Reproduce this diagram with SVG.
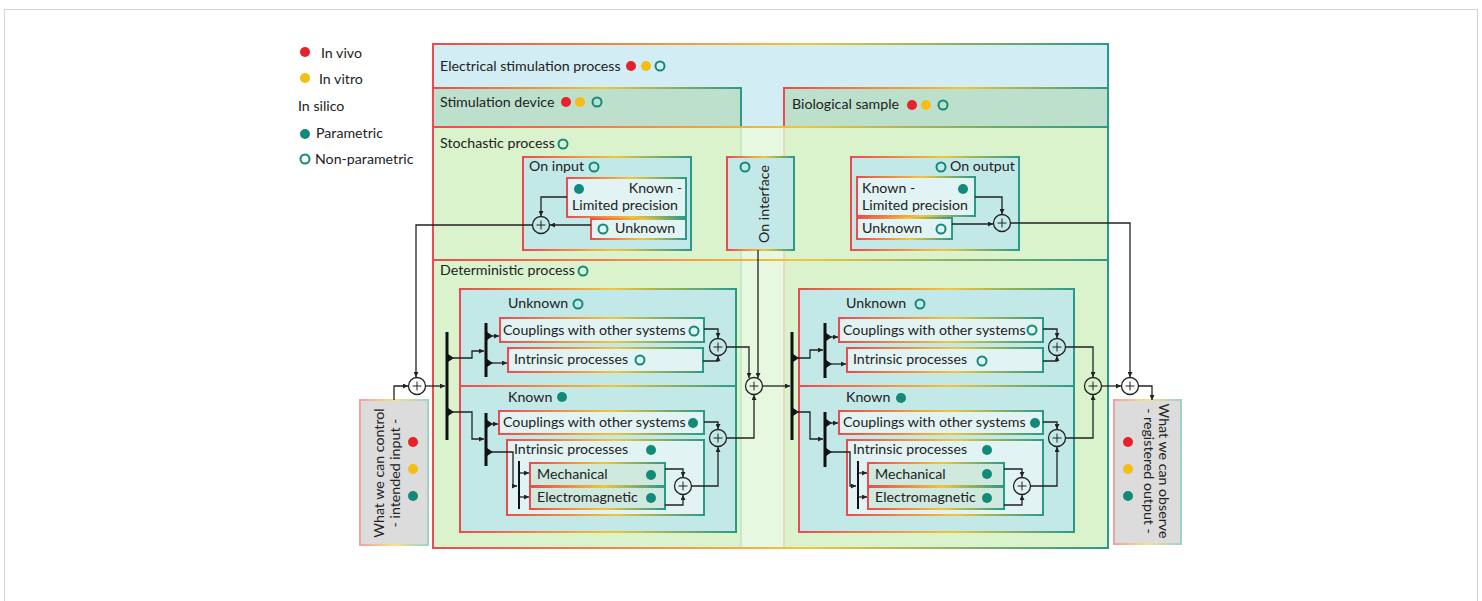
<svg xmlns="http://www.w3.org/2000/svg" width="1482" height="601" viewBox="0 0 1482 601">
<defs>
<linearGradient id="gb" x1="0" y1="0" x2="1" y2="0">
<stop offset="0" stop-color="#ec4a50"/><stop offset="0.55" stop-color="#f2c53a"/><stop offset="1" stop-color="#2a9a88"/>
</linearGradient>
<linearGradient id="gl" x1="0" y1="0" x2="1" y2="0">
<stop offset="0" stop-color="#f5a0a0"/><stop offset="0.5" stop-color="#f5e08a"/><stop offset="1" stop-color="#9fd3c8"/>
</linearGradient>
<marker id="a" viewBox="0 0 6 6" refX="6" refY="3" markerWidth="5" markerHeight="5" orient="auto" markerUnits="userSpaceOnUse"><path d="M0,0 L6,3 L0,6z" fill="#222"/></marker>
<g id="sum"><circle r="8.5" fill="none" stroke="#222" stroke-width="1.3"/><path d="M-4.5,0 H4.5 M0,-4.5 V4.5" stroke="#222" stroke-width="1"/></g>
</defs>
<style>
text{font-family:Lato,"Open Sans","Liberation Sans",sans-serif;font-size:14.2px;fill:#222}
.bx{stroke:url(#gb);stroke-width:2}
.cy{fill:#c2e9e8}
.lt{fill:#e1f4f3}
.me{fill:#cfe9df}
.gr{fill:#dcdcdc;stroke:url(#gl);stroke-width:2}
.dr{fill:#e8202a}.dy{fill:#f6be14}.dt{fill:#13897a}
.ring{fill:none;stroke:#13897a;stroke-width:2}
.c{fill:none;stroke:#222;stroke-width:1.3}
.ca{fill:none;stroke:#222;stroke-width:1.3;marker-end:url(#a)}
.br{stroke:#111;stroke-width:3}
.br2{stroke:#111;stroke-width:2}
</style>
<rect x="4.5" y="9.5" width="1473" height="600" fill="#fff" stroke="#d4d4d4"/>

<g id="legend">
<circle class="dr" cx="305" cy="52" r="5"/><text x="321" y="58">In vivo</text>
<circle class="dy" cx="305" cy="78" r="5"/><text x="319" y="84">In vitro</text>
<text x="298" y="111">In silico</text>
<circle class="dt" cx="305" cy="134" r="5"/><text x="316" y="138">Parametric</text>
<circle class="ring" cx="305" cy="159" r="4.5"/><text x="315" y="164">Non-parametric</text>
</g>

<g id="electrical-stimulation-process">
<rect x="433" y="44" width="675" height="504" fill="#d2eef4"/>
<rect x="433" y="127" width="675" height="133" fill="#daf3cd"/>
<rect x="433" y="260" width="675" height="288" fill="#daf3cd"/>
<rect x="741" y="127" width="43" height="421" fill="#e6f8df"/>
<line x1="741" y1="127" x2="741" y2="548" stroke="#b9e0bd" stroke-width="1.2"/>
<line x1="784" y1="127" x2="784" y2="548" stroke="#f2c4b4" stroke-width="1.2"/>
<rect class="bx" x="433" y="44" width="675" height="504" fill="none"/>
<text x="440" y="71">Electrical stimulation process</text>
<circle class="dr" cx="631" cy="66" r="5"/><circle class="dy" cx="646" cy="66" r="5"/><circle class="ring" cx="660" cy="66" r="4.5"/>
</g>

<g id="stimulation-device">
<rect class="bx" x="433" y="88" width="308" height="39" fill="#bde0cd"/>
<text x="440" y="107">Stimulation device</text>
<circle class="dr" cx="566" cy="102" r="5"/><circle class="dy" cx="580" cy="102" r="5"/><circle class="ring" cx="597" cy="102" r="4.5"/>
</g>

<g id="biological-sample">
<rect class="bx" x="784" y="88" width="324" height="39" fill="#bde0cd"/>
<text x="792" y="109">Biological sample</text>
<circle class="dr" cx="912" cy="105" r="5"/><circle class="dy" cx="926" cy="105" r="5"/><circle class="ring" cx="943" cy="105" r="4.5"/>
</g>

<g id="stochastic-process">
<rect class="bx" x="433" y="127" width="675" height="133" fill="none"/>
<text x="440" y="148">Stochastic process</text>
<circle class="ring" cx="563" cy="144" r="4.5"/>
</g>

<g id="deterministic-process">
<rect class="bx" x="433" y="260" width="675" height="288" fill="none"/>
<text x="440" y="275">Deterministic process</text>
<circle class="ring" cx="583" cy="271" r="4.5"/>
</g>

<g id="on-input">
<rect class="bx cy" x="523" y="157" width="168" height="93"/>
<text x="529" y="171">On input</text><circle class="ring" cx="594" cy="167" r="4.5"/>
<rect class="bx lt" x="567" y="178" width="119" height="39"/>
<circle class="dt" cx="579" cy="189" r="5"/>
<text x="682" y="193" text-anchor="end">Known -</text>
<text x="572" y="210">Limited precision</text>
<rect class="bx lt" x="591" y="219" width="95" height="20"/>
<circle class="ring" cx="603" cy="229" r="4.5"/><text x="615" y="233">Unknown</text>
<use href="#sum" x="541" y="225"/>
</g>

<g id="on-interface">
<rect class="bx cy" x="727" y="157" width="67" height="93"/>
<circle class="ring" cx="745" cy="167" r="4.5"/>
<text transform="translate(769,204) rotate(-90)" text-anchor="middle">On interface</text>
</g>

<g id="on-output">
<rect class="bx cy" x="851" y="157" width="168" height="93"/>
<circle class="ring" cx="941" cy="167" r="4.5"/><text x="950" y="171">On output</text>
<rect class="bx lt" x="857" y="177" width="118" height="39"/>
<text x="862" y="193">Known -</text><circle class="dt" cx="963" cy="189" r="5"/>
<text x="862" y="210">Limited precision</text>
<rect class="bx lt" x="857" y="218" width="95" height="21"/>
<text x="862" y="233">Unknown</text><circle class="ring" cx="941" cy="229" r="4.5"/>
<use href="#sum" x="1002" y="223"/>
</g>

<g id="device-unknown">
<rect class="bx cy" x="460" y="289" width="276" height="97"/>
<text x="508" y="308">Unknown</text><circle class="ring" cx="578" cy="304" r="4.5"/>
<rect class="bx lt" x="500" y="318" width="204" height="24"/>
<text x="503" y="335">Couplings with other systems</text><circle class="ring" cx="694" cy="331" r="4.5"/>
<rect class="bx lt" x="508" y="348" width="195" height="24"/>
<text x="514" y="364">Intrinsic processes</text><circle class="ring" cx="640" cy="360" r="4.5"/>
<use href="#sum" x="718" y="347"/>
</g>

<g id="device-known">
<rect class="bx cy" x="460" y="386" width="276" height="146"/>
<text x="508" y="402">Known</text><circle class="dt" cx="562" cy="397" r="5"/>
<rect class="bx lt" x="499" y="411" width="205" height="23"/>
<text x="503" y="427">Couplings with other systems</text><circle class="dt" cx="693" cy="423" r="5"/>
<rect class="bx lt" x="507" y="440" width="197" height="75"/>
<text x="514" y="454">Intrinsic processes</text><circle class="dt" cx="651" cy="450" r="5"/>
<rect class="bx me" x="530" y="463" width="135" height="23"/>
<text x="537" y="479">Mechanical</text><circle class="dt" cx="651" cy="475" r="5"/>
<rect class="bx me" x="530" y="487" width="135" height="22"/>
<text x="537" y="502">Electromagnetic</text><circle class="dt" cx="651" cy="498" r="5"/>
<use href="#sum" x="683" y="486"/>
<use href="#sum" x="718" y="438"/>
</g>

<g id="sample-unknown">
<rect class="bx cy" x="799" y="289" width="275" height="97"/>
<text x="846" y="308">Unknown</text><circle class="ring" cx="920" cy="304" r="4.5"/>
<rect class="bx lt" x="839" y="318" width="204" height="24"/>
<text x="843" y="335">Couplings with other systems</text><circle class="ring" cx="1032" cy="330" r="4.5"/>
<rect class="bx lt" x="847" y="348" width="196" height="24"/>
<text x="853" y="364">Intrinsic processes</text><circle class="ring" cx="982" cy="361" r="4.5"/>
<use href="#sum" x="1057" y="347"/>
</g>

<g id="sample-known">
<rect class="bx cy" x="799" y="386" width="275" height="146"/>
<text x="846" y="402">Known</text><circle class="dt" cx="901" cy="398" r="5"/>
<rect class="bx lt" x="839" y="411" width="204" height="23"/>
<text x="843" y="427">Couplings with other systems</text><circle class="dt" cx="1035" cy="423" r="5"/>
<rect class="bx lt" x="847" y="440" width="196" height="75"/>
<text x="853" y="454">Intrinsic processes</text><circle class="dt" cx="987" cy="450" r="5"/>
<rect class="bx me" x="868" y="463" width="136" height="23"/>
<text x="875" y="479">Mechanical</text><circle class="dt" cx="987" cy="474" r="5"/>
<rect class="bx me" x="868" y="487" width="136" height="22"/>
<text x="875" y="502">Electromagnetic</text><circle class="dt" cx="987" cy="498" r="5"/>
<use href="#sum" x="1022" y="486"/>
<use href="#sum" x="1057" y="438"/>
</g>

<g id="intended-input">
<rect class="gr" x="360" y="400" width="68" height="145"/>
<text transform="translate(384,473) rotate(-90)" text-anchor="middle">What we can control</text>
<text transform="translate(400,473) rotate(-90)" text-anchor="middle">- intended input -</text>
<circle class="dr" cx="413" cy="442" r="5"/><circle class="dy" cx="413" cy="469" r="5"/><circle class="dt" cx="413" cy="496" r="5"/>
</g>

<g id="registered-output">
<rect class="gr" x="1114" y="400" width="67" height="144"/>
<text transform="translate(1159,471) rotate(90)" text-anchor="middle">What we can observe</text>
<text transform="translate(1144,471) rotate(90)" text-anchor="middle">- registered output -</text>
<circle class="dr" cx="1128" cy="442" r="5"/><circle class="dy" cx="1128" cy="469" r="5"/><circle class="dt" cx="1128" cy="496" r="5"/>
</g>

<g id="sum-nodes">
<use href="#sum" x="417" y="386"/>
<use href="#sum" x="754" y="386"/>
<use href="#sum" x="1093" y="386"/>
<use href="#sum" x="1130" y="386"/>
</g>

<g id="connectors">
<path class="ca" d="M567,197 H541 V216"/>
<path class="ca" d="M591,225 H550"/>
<path class="ca" d="M532,225 H416 V377"/>
<path class="ca" d="M394,400 V386 H408"/>
<path class="ca" d="M426,386 H445"/>
<line class="br" x1="447" y1="332" x2="447" y2="440"/>
<path d="M448,354 L454,358 L448,362z M448,408 L454,412 L448,416z" fill="#111"/>
<path class="ca" d="M450,358 H472 V351 H484"/>
<path class="ca" d="M450,412 H472 V439 H484"/>
<line class="br" x1="486" y1="323" x2="486" y2="377"/>
<path d="M487,332 L493,336 L487,340z M487,359 L493,363 L487,367z" fill="#111"/>
<path class="ca" d="M489,336 H499"/>
<path class="ca" d="M489,363 H507"/>
<line class="br" x1="486" y1="413" x2="486" y2="466"/>
<path d="M487,420 L493,424 L487,428z M487,448 L493,452 L487,456z" fill="#111"/>
<path class="ca" d="M489,424 H498"/>
<path class="ca" d="M489,452 H513 V486 H517"/>
<line class="br2" x1="519" y1="461" x2="519" y2="509"/>
<path class="ca" d="M520,473 H529"/>
<path class="ca" d="M520,497 H529"/>
<path class="ca" d="M704,329 H718 V338"/>
<path class="ca" d="M703,361 H718 V356"/>
<path class="ca" d="M727,347 H749 V378"/>
<path class="ca" d="M704,422 H718 V429"/>
<path class="ca" d="M665,469 H683 V477"/>
<path class="ca" d="M665,505 H683 V495"/>
<path class="ca" d="M692,486 H718 V447"/>
<path class="ca" d="M727,438 H754 V395"/>
<path class="ca" d="M758,250 V378"/>
<path class="ca" d="M763,386 H790"/>
<line class="br" x1="792" y1="332" x2="792" y2="440"/>
<path d="M793,354 L799,358 L793,362z M793,408 L799,412 L793,416z" fill="#111"/>
<path class="ca" d="M795,358 H810 V350 H823"/>
<path class="ca" d="M795,412 H810 V439 H823"/>
<line class="br" x1="825" y1="323" x2="825" y2="378"/>
<path d="M826,333 L832,337 L826,341z M826,360 L832,364 L826,368z" fill="#111"/>
<path class="ca" d="M828,337 H838"/>
<path class="ca" d="M828,364 H846"/>
<line class="br" x1="825" y1="412" x2="825" y2="467"/>
<path d="M826,419 L832,423 L826,427z M826,448 L832,452 L826,456z" fill="#111"/>
<path class="ca" d="M828,423 H838"/>
<path class="ca" d="M828,452 H850 V486 H856"/>
<line class="br2" x1="858" y1="461" x2="858" y2="509"/>
<path class="ca" d="M859,473 H867"/>
<path class="ca" d="M859,497 H867"/>
<path class="ca" d="M1043,329 H1057 V338"/>
<path class="ca" d="M1043,361 H1057 V356"/>
<path class="ca" d="M1066,347 H1093 V377"/>
<path class="ca" d="M1043,422 H1057 V429"/>
<path class="ca" d="M1004,469 H1022 V477"/>
<path class="ca" d="M1004,505 H1022 V495"/>
<path class="ca" d="M1031,486 H1057 V447"/>
<path class="ca" d="M1066,438 H1093 V395"/>
<path class="ca" d="M1102,386 H1121"/>
<path class="ca" d="M1139,386 H1152 V400"/>
<path class="ca" d="M975,197 H1002 V214"/>
<path class="ca" d="M952,224 H993"/>
<path class="ca" d="M1011,223 H1130 V377"/>
</g>
</svg>
